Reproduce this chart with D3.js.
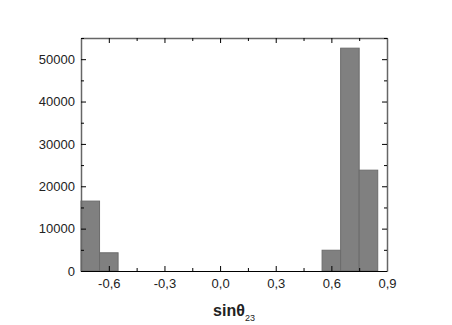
<!doctype html>
<html lang="en">
<head>
<meta charset="utf-8">
<title>sin theta23 histogram</title>
<style>
    body { margin: 0; background: #fff; }
    svg text { font-family: "Liberation Sans", Arial, sans-serif; fill: #222; }
</style>
</head>
<body>
<svg id="chart" width="452" height="325"></svg>
<script src="https://cdnjs.cloudflare.com/ajax/libs/d3/7.8.5/d3.min.js"></script>
<script>
    // histogram bins (left edge, right edge) and counts
    const binStart = [-0.75, -0.65, 0.55, 0.65, 0.75];
    const binEnd   = [-0.65, -0.55, 0.65, 0.75, 0.85];
    const counts   = [16500, 4300, 4900, 52600, 23800];

    const xTicks = [-0.6, -0.3, 0.0, 0.3, 0.6, 0.9];
    const xMinor = [-0.75, -0.45, -0.15, 0.15, 0.45, 0.75];
    const yTicks = [0, 10000, 20000, 30000, 40000, 50000];
    const yMinor = [5000, 15000, 25000, 35000, 45000, 55000];

    const margin = {left: 81, right: 65, top: 38, bottom: 54};
    const width = 452, height = 325;

    const svg = d3.select('#chart');

    const x = d3.scaleLinear()
        .domain([-0.75, 0.9])
        .range([margin.left, width - margin.right]);

    const y = d3.scaleLinear()
        .domain([0, 55000])
        .range([height - margin.bottom, margin.top]);

    const bins = counts.map(function (c, i) {
        return {x0: binStart[i], x1: binEnd[i], n: c};
    });

    svg.append('g').selectAll('rect')
        .data(bins).enter()
        .append('rect')
        .attr('x', d => x(d.x0))
        .attr('width', d => x(d.x1) - x(d.x0))
        .attr('y', d => y(d.n))
        .attr('height', d => y(0) - y(d.n))
        .attr('fill', '#808080')
        .attr('stroke', '#6b6b6b')
        .attr('stroke-width', 1);

    const fmt = d => d3.format('.1f')(d).replace('.', ',').replace('−', '-');

    // bottom axis, ticks inward
    svg.append('g')
        .attr('transform', 'translate(0,' + y(0) + ')')
        .call(d3.axisBottom(x).tickValues(xTicks).tickSizeInner(-5).tickSizeOuter(0).tickPadding(8).tickFormat(fmt))
        .call(g => g.selectAll('text').attr('font-size', 13).attr('fill', '#222'));
    svg.append('g')
        .attr('transform', 'translate(0,' + y(0) + ')')
        .call(d3.axisBottom(x).tickValues(xMinor).tickSizeInner(-3).tickSizeOuter(0).tickFormat(''))
        .call(g => g.select('.domain').remove());

    // top axis mirror
    svg.append('g')
        .attr('transform', 'translate(0,' + margin.top + ')')
        .call(d3.axisTop(x).tickValues(xTicks).tickSizeInner(-5).tickSizeOuter(0).tickFormat(''))
        .call(g => g.select('.domain').attr('stroke', '#666').attr('stroke-width', 1.5));
    svg.append('g')
        .attr('transform', 'translate(0,' + margin.top + ')')
        .call(d3.axisTop(x).tickValues(xMinor).tickSizeInner(-3).tickSizeOuter(0).tickFormat(''))
        .call(g => g.select('.domain').remove());

    // left axis
    svg.append('g')
        .attr('transform', 'translate(' + margin.left + ',0)')
        .call(d3.axisLeft(y).tickValues(yTicks).tickSizeInner(-5).tickSizeOuter(0).tickPadding(6).tickFormat(d3.format('d')))
        .call(g => g.select('.domain').attr('stroke', '#666').attr('stroke-width', 1.5))
        .call(g => g.selectAll('text').attr('font-size', 13).attr('fill', '#222'));
    svg.append('g')
        .attr('transform', 'translate(' + margin.left + ',0)')
        .call(d3.axisLeft(y).tickValues(yMinor).tickSizeInner(-3).tickSizeOuter(0).tickFormat(''))
        .call(g => g.select('.domain').remove());

    // right axis mirror
    svg.append('g')
        .attr('transform', 'translate(' + (width - margin.right) + ',0)')
        .call(d3.axisRight(y).tickValues(yTicks).tickSizeInner(-5).tickSizeOuter(0).tickFormat(''))
        .call(g => g.select('.domain').attr('stroke', '#666').attr('stroke-width', 1.5));
    svg.append('g')
        .attr('transform', 'translate(' + (width - margin.right) + ',0)')
        .call(d3.axisRight(y).tickValues(yMinor).tickSizeInner(-3).tickSizeOuter(0).tickFormat(''))
        .call(g => g.select('.domain').remove());

    // x label
    const lab = svg.append('text')
        .attr('x', (margin.left + width - margin.right) / 2)
        .attr('y', 316)
        .attr('text-anchor', 'middle')
        .attr('font-size', 16)
        .attr('font-weight', 'bold')
        .attr('fill', '#333');
    lab.append('tspan').text('sinθ');
    lab.append('tspan').attr('font-size', 9).attr('font-weight', 'normal').attr('dy', 5).text('23');
</script>
</body>
</html>
